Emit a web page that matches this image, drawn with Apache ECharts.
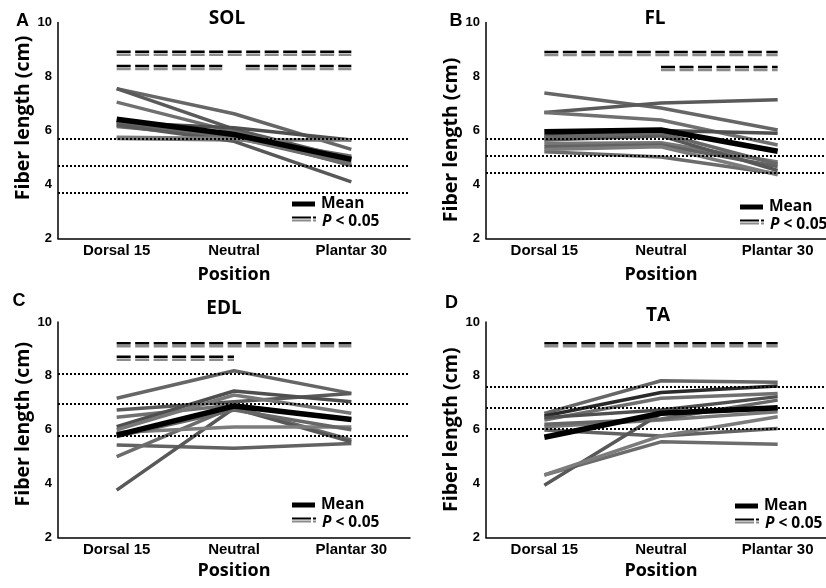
<!DOCTYPE html>
<html>
<head>
<meta charset="utf-8">
<script src="https://cdn.jsdelivr.net/npm/echarts@6/dist/echarts.min.js"></script>
<style>
  html, body { margin: 0; padding: 0; background: #fff; }
  #chart { width: 826px; height: 588px; }
</style>
</head>
<body>
<div id="chart"></div>
<script>
const positions = ['Dorsal 15', 'Neutral', 'Plantar 30'];

// individual subjects: [dorsal 15, neutral, plantar 30]
const solLines = [
    [7.55, 6.62, 5.30], [7.55, 6.05, 4.95], [7.05, 5.95, 4.85], [6.30, 6.10, 5.65],
    [5.70, 5.65, 5.65], [6.25, 5.85, 4.70], [6.15, 5.75, 4.75], [6.20, 5.60, 4.10],
    [5.75, 5.70, 5.00], [6.35, 5.80, 5.05]
];
const solMean = [6.42, 5.85, 4.93];
const solRef = [5.68, 4.68, 3.69];
const solSig = [[0, 2, 8.92], [0, 0.9, 8.39], [1.1, 2, 8.39]];   // [from, to, level]

const flLines = [
    [7.39, 6.83, 6.02], [6.67, 7.02, 7.14], [6.67, 6.39, 5.46], [5.80, 6.00, 5.90],
    [5.52, 5.55, 4.83], [5.40, 5.46, 4.67], [5.21, 5.02, 4.40], [5.65, 5.80, 4.52],
    [5.30, 5.40, 4.36], [5.75, 5.90, 4.75]
];
const flMean = [5.95, 6.02, 5.23];
const flRef = [5.70, 5.08, 4.45];
const flSig = [[0, 2, 8.91], [1, 2, 8.35]];

const edlLines = [
    [7.17, 8.19, 7.35], [6.73, 7.04, 7.35], [6.46, 6.92, 6.36], [6.11, 7.44, 7.04],
    [6.00, 7.29, 6.61], [5.43, 5.31, 5.49], [5.00, 6.85, 5.62], [3.76, 6.80, 5.55],
    [5.90, 6.10, 6.10], [5.75, 6.73, 6.00]
];
const edlMean = [5.80, 6.88, 6.38];
const edlRef = [8.08, 6.96, 5.79];
const edlSig = [[0, 2, 9.21], [0, 1, 8.71]];

const taLines = [
    [6.61, 7.82, 7.76], [6.51, 7.38, 7.62], [6.36, 7.17, 7.35], [6.45, 6.73, 7.23],
    [6.11, 6.36, 6.67], [5.99, 5.77, 6.05], [4.32, 5.55, 5.46], [3.94, 6.60, 6.80],
    [4.32, 5.77, 6.48], [6.20, 6.40, 7.10]
];
const taMean = [5.72, 6.61, 6.82];
const taRef = [7.60, 6.80, 6.03];
const taSig = [[0, 2, 9.21]];

const grays = ['#666', '#5a5a5a', '#707070', '#4f4f4f', '#777', '#626262', '#6c6c6c', '#585858', '#7c7c7c', '#676767'];
const darkLine = { ta: 1 };   // one TA subject drawn near black

const panels = [
    { key: 'sol', title: 'SOL', letter: 'A', lines: solLines, mean: solMean, ref: solRef, sig: solSig,
      grid: { left: 58, top: 22.5, width: 352, height: 216 }, titleAt: [227, 18.5], letterAt: [22.5, 21],
      legendAt: [292, 204], nameShift: 12.5, xNameGap: 27 },
    { key: 'fl', title: 'FL', letter: 'B', lines: flLines, mean: flMean, ref: flRef, sig: flSig,
      grid: { left: 486, top: 22.5, width: 350, height: 216 }, titleAt: [655, 18.5], letterAt: [456, 21.5],
      legendAt: [740, 207], nameShift: -9.5, xNameGap: 27 },
    { key: 'edl', title: 'EDL', letter: 'C', lines: edlLines, mean: edlMean, ref: edlRef, sig: edlSig,
      grid: { left: 58, top: 322, width: 352, height: 215.5 }, titleAt: [224, 309], letterAt: [19, 301.5],
      legendAt: [292, 505], nameShift: 5.5, xNameGap: 24 },
    { key: 'ta', title: 'TA', letter: 'D', lines: taLines, mean: taMean, ref: taRef, sig: taSig,
      grid: { left: 486, top: 322, width: 350, height: 215.5 }, titleAt: [658, 316], letterAt: [451.5, 303.5],
      legendAt: [735, 506], nameShift: 0, xNameGap: 24 }
];

const labelFont = 'Liberation Sans, Arial, sans-serif';
const nameFont = 'Open Sans, sans-serif';

const grid = [], xAxis = [], yAxis = [], series = [], graphic = [];

panels.forEach((p, i) => {
    grid.push(Object.assign({ outerBoundsMode: 'none', containLabel: false }, p.grid));

    xAxis.push({
        type: 'category', gridIndex: i, data: positions,
        axisLine: { onZero: false, lineStyle: { color: '#000', width: 1.5 } },
        axisTick: { show: false },
        axisLabel: { color: '#000', fontFamily: labelFont, fontWeight: 'bold', fontSize: 15, margin: 5 },
        name: 'Position', nameLocation: 'middle', nameGap: p.xNameGap,
        nameTextStyle: { color: '#000', fontFamily: nameFont, fontWeight: 'bold', fontSize: 18 }
    });
    // hidden value axis on the same grid, for the significance bars
    xAxis.push({ type: 'value', gridIndex: i, min: -0.5, max: 2.5, show: false });

    const pad = p.nameShift >= 0 ? [0, 0, 0, 2 * p.nameShift] : [0, -2 * p.nameShift, 0, 0];
    yAxis.push({
        type: 'value', gridIndex: i, min: 2, max: 10, interval: 2,
        splitLine: { show: false },
        axisLine: { show: true, onZero: false, lineStyle: { color: '#000', width: 1.5 } },
        axisTick: { show: false },
        axisLabel: { color: '#000', fontFamily: labelFont, fontWeight: 'bold', fontSize: 13, margin: 6 },
        name: 'Fiber length (cm)', nameLocation: 'middle', nameGap: 25,
        nameTextStyle: { color: '#000', fontFamily: nameFont, fontWeight: 'bold', fontSize: 19.5, padding: pad }
    });

    p.lines.forEach((vals, k) => {
        series.push({
            type: 'line', xAxisIndex: 2 * i, yAxisIndex: i, data: vals, symbol: 'none', silent: true, z: 2,
            lineStyle: { color: darkLine[p.key] === k ? '#2a2a2a' : grays[k % grays.length], width: 3.5 }
        });
    });

    series.push({
        name: 'Mean', type: 'line', xAxisIndex: 2 * i, yAxisIndex: i, data: p.mean, symbol: 'none',
        silent: true, z: 3, lineStyle: { color: '#000', width: 5.5 }
    });

    series.push({
        type: 'line', xAxisIndex: 2 * i + 1, yAxisIndex: i, data: [], z: 4, silent: true,
        markLine: {
            silent: true, symbol: 'none', label: { show: false },
            lineStyle: { color: '#000', width: 2, type: 'dotted' },
            data: p.ref.map(v => ({ yAxis: v }))
        }
    });

    p.sig.forEach(s => {
        series.push({
            type: 'line', xAxisIndex: 2 * i + 1, yAxisIndex: i, symbol: 'none', silent: true, z: 5,
            data: [[s[0], s[2]], [s[1], s[2]]],
            lineStyle: { color: '#000', width: 2.5, type: [14, 4.5], shadowColor: '#8c8c8c', shadowOffsetY: 3, shadowBlur: 0 }
        });
    });

    // titles and panel letters
    graphic.push({
        type: 'text', x: p.titleAt[0], y: p.titleAt[1],
        style: { text: p.title, align: 'center', verticalAlign: 'middle', fill: '#000',
                 font: 'bold 19px ' + nameFont }
    });
    graphic.push({
        type: 'text', x: p.letterAt[0], y: p.letterAt[1],
        style: { text: p.letter, align: 'center', verticalAlign: 'middle', fill: '#000',
                 font: 'bold 18px ' + labelFont }
    });

    // legend
    const bx = p.legendAt[0], by = p.legendAt[1];
    graphic.push({
        type: 'group', x: bx, y: by, children: [
            { type: 'rect', shape: { x: 0, y: -2.5, width: 23, height: 5 }, style: { fill: '#000' } },
            { type: 'text', x: 29, y: 0, style: { text: 'Mean', verticalAlign: 'middle', fill: '#000', font: 'bold 15.5px ' + nameFont } },
            { type: 'rect', shape: { x: 0, y: 12.5, width: 19, height: 2 }, style: { fill: '#000' } },
            { type: 'rect', shape: { x: 0, y: 15.5, width: 19, height: 2 }, style: { fill: '#8c8c8c' } },
            { type: 'rect', shape: { x: 21, y: 12.5, width: 3, height: 2 }, style: { fill: '#000' } },
            { type: 'rect', shape: { x: 21, y: 15.5, width: 3, height: 2 }, style: { fill: '#8c8c8c' } },
            { type: 'text', x: 30, y: 18, style: {
                text: '{i|P} < 0.05', verticalAlign: 'middle', fill: '#000', font: 'bold 15.5px ' + nameFont,
                rich: { i: { fontStyle: 'italic', fontWeight: 'bold', fontSize: 15.5, fontFamily: nameFont, fill: '#000' } }
            } }
        ]
    });
});

const chart = echarts.init(document.getElementById('chart'), null, { renderer: 'canvas' });
chart.setOption({
    animation: false,
    backgroundColor: '#fff',
    grid, xAxis, yAxis, series, graphic
});
</script>
</body>
</html>
